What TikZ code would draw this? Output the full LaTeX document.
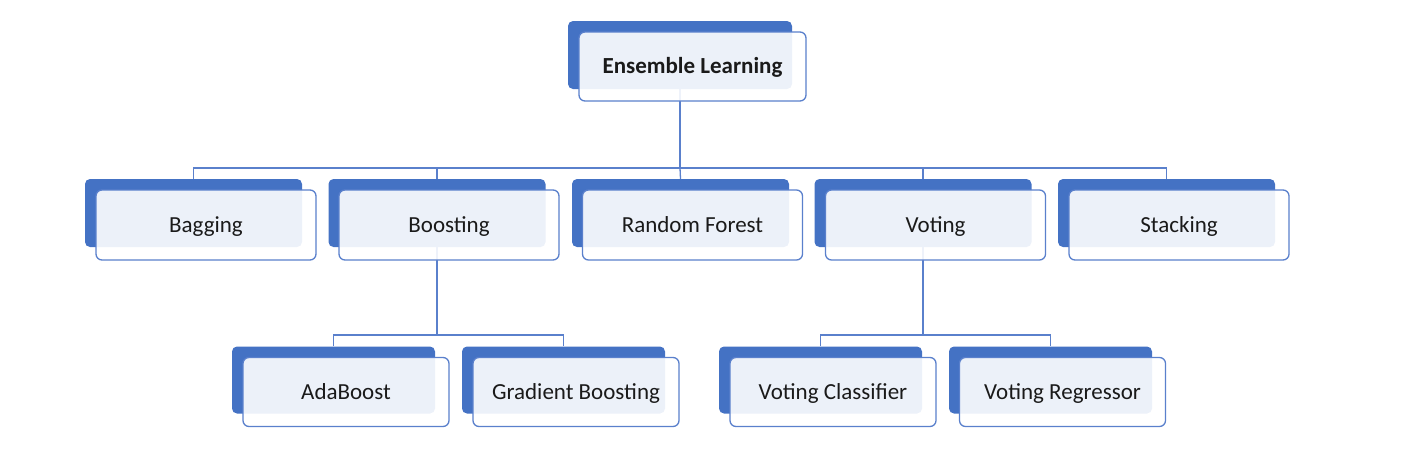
\documentclass[tikz,border=0pt]{standalone}
\usepackage{fontspec}
\setmainfont{Carlito}
\definecolor{dkblue}{HTML}{4472C4}
\definecolor{lnblue}{HTML}{5A80CC}
\definecolor{txt}{HTML}{1A1A1A}
\begin{document}
\begin{tikzpicture}[x=1pt,y=-1pt,
  backbox/.style={rectangle, rounded corners=5pt, fill=dkblue, draw=none, inner sep=0pt},
  frontbox/.style={rectangle, rounded corners=6pt, fill=white, fill opacity=0.9, text opacity=1, draw=lnblue, line width=1.3pt, inner sep=0pt, text=txt, text height=17pt, text depth=3pt, font=\fontsize{23}{26}\selectfont},
  lvtwob/.style={backbox, minimum width=217pt, minimum height=68pt},
  lvtwof/.style={frontbox, minimum width=220pt, minimum height=70pt},
  lvthreeb/.style={backbox, minimum width=203pt, minimum height=67pt},
  lvthreef/.style={frontbox, minimum width=206pt, minimum height=69pt},
  conn/.style={draw=lnblue, line width=1.3pt}]
\useasboundingbox (0,0) rectangle (1404,472);
% back boxes
\node[backbox, minimum width=224pt, minimum height=68pt] (topb) at (680,55) {};
\node[lvtwob] (bagb) at (193.5,213) {};
\node[lvtwob] (boob) at (437,213) {};
\node[lvtwob] (rfb) at (680.5,213) {};
\node[lvtwob] (votb) at (923,213) {};
\node[lvtwob] (stab) at (1166.5,213) {};
\node[lvthreeb] (adab) at (333.5,380) {};
\node[lvthreeb] (gbb) at (563.5,380) {};
\node[lvthreeb] (vcb) at (820.5,380) {};
\node[lvthreeb] (vrb) at (1050.5,380) {};
% connectors
\coordinate (busa) at (680,168);
\coordinate (busb) at (437,335);
\coordinate (busc) at (923,335);
\draw[conn] (topb.south) -- (busa);
\draw[conn] (bagb.north) |- (busa) -| (stab.north);
\draw[conn] (boob.north) -- (boob.north |- busa);
\draw[conn] (rfb.north) -- (busa);
\draw[conn] (votb.north) -- (votb.north |- busa);
\draw[conn] (boob.south) -- (busb);
\draw[conn] (adab.north) |- (busb) -| (gbb.north);
\draw[conn] (votb.south) -- (busc);
\draw[conn] (vcb.north) |- (busc) -| (vrb.north);
% front boxes
\node[frontbox, minimum width=227pt, minimum height=69pt, font=\fontsize{23}{26}\selectfont\bfseries] (top) at (692.5,66.5) {Ensemble Learning};
\node[lvtwof] (bag) at (206,225) {Bagging};
\node[lvtwof] (boo) at (449,225) {Boosting};
\node[lvtwof] (rf) at (692.5,225) {Random Forest};
\node[lvtwof] (vot) at (935.5,225) {Voting};
\node[lvtwof] (sta) at (1179,225) {Stacking};
\node[lvthreef] (ada) at (346,392) {AdaBoost};
\node[lvthreef] (gb) at (576,392) {Gradient Boosting};
\node[lvthreef] (vc) at (833,392) {Voting Classifier};
\node[lvthreef] (vr) at (1062.5,392) {Voting Regressor};
\end{tikzpicture}
\end{document}
